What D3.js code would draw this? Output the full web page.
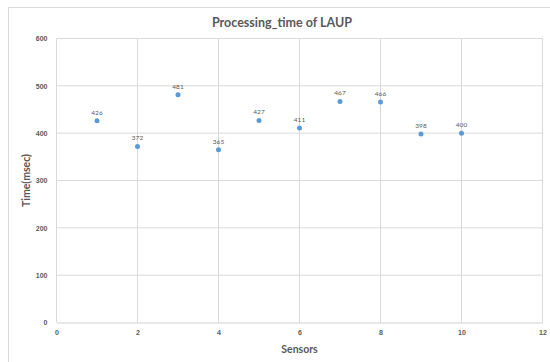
<!DOCTYPE html>
<html>
<head>
<meta charset="utf-8">
<script src="https://cdn.jsdelivr.net/npm/d3@7"></script>
<style>
  html, body { margin: 0; padding: 0; background: #fff; }
  svg { display: block; font-family: Lato, "Open Sans", "Liberation Sans", sans-serif; }
</style>
</head>
<body>
<svg id="chart" width="550" height="362"></svg>
<script>
// Sensor index and processing time (msec)
const sensors = [1, 2, 3, 4, 5, 6, 7, 8, 9, 10];
const times = [426, 372, 481, 365, 427, 411, 467, 466, 398, 400];
const xTicks = [0, 2, 4, 6, 8, 10, 12];
const yTicks = [0, 100, 200, 300, 400, 500, 600];

const svg = d3.select("#chart");

// outer chart frame
svg.append("rect")
  .attr("x", 8.5).attr("y", 7.5)
  .attr("width", 600).attr("height", 400)
  .attr("fill", "#fff").attr("stroke", "#d9d9d9");

const x = d3.scaleLinear().domain([0, 12]).range([56.5, 542.5]);
const y = d3.scaleLinear().domain([0, 600]).range([322.5, 38.5]);

// gridlines
svg.append("g")
  .selectAll("line")
  .data(yTicks.filter(d => d > 0))
  .join("line")
  .attr("x1", x(0)).attr("x2", x(12))
  .attr("y1", d => y(d)).attr("y2", d => y(d))
  .attr("stroke", "#d9d9d9").attr("stroke-width", 1);

svg.append("g")
  .selectAll("line")
  .data(xTicks)
  .join("line")
  .attr("x1", d => x(d)).attr("x2", d => x(d))
  .attr("y1", y(600)).attr("y2", y(0))
  .attr("stroke", "#d9d9d9").attr("stroke-width", 1);

// x axis (baseline)
const xAxis = svg.append("g")
  .attr("transform", `translate(0,${y(0)})`)
  .call(d3.axisBottom(x).tickValues(xTicks).tickSize(0).tickPadding(8));
xAxis.select(".domain").attr("stroke", "#d0d0d0");
xAxis.selectAll("text")
  .attr("fill", "#595959").attr("font-size", 7).attr("font-weight", "bold");

// y axis labels
const yAxis = svg.append("g")
  .attr("transform", `translate(${x(0)},0)`)
  .call(d3.axisLeft(y).tickValues(yTicks).tickSize(0).tickPadding(9));
yAxis.select(".domain").remove();
yAxis.selectAll("text")
  .attr("fill", "#595959").attr("font-size", 7).attr("font-weight", "bold");

// data points
svg.append("g")
  .selectAll("circle")
  .data(sensors)
  .join("circle")
  .attr("cx", d => x(d))
  .attr("cy", (d, i) => y(times[i]))
  .attr("r", 2.5)
  .attr("fill", "#5b9bd5");

// value labels
svg.append("g")
  .selectAll("text")
  .data(sensors)
  .join("text")
  .attr("x", d => x(d))
  .attr("y", (d, i) => y(times[i]) - 6)
  .attr("text-anchor", "middle")
  .attr("font-size", 6.5)
  .attr("fill", "#595959")
  .text((d, i) => times[i]);

// title
svg.append("text")
  .attr("x", 282).attr("y", 27)
  .attr("text-anchor", "middle")
  .attr("font-size", 12.5).attr("font-weight", "bold")
  .attr("fill", "#595959")
  .text("Processing_time of LAUP");

// axis titles
svg.append("text")
  .attr("x", (x(0) + x(12)) / 2).attr("y", 353)
  .attr("text-anchor", "middle")
  .attr("font-size", 10.5).attr("font-weight", "bold")
  .attr("fill", "#595959")
  .text("Sensors");

svg.append("text")
  .attr("transform", `translate(30,${(y(0) + y(600)) / 2}) rotate(-90)`)
  .attr("text-anchor", "middle")
  .attr("font-size", 10.5).attr("font-weight", "bold")
  .attr("fill", "#595959")
  .text("Time(msec)");
</script>
</body>
</html>
